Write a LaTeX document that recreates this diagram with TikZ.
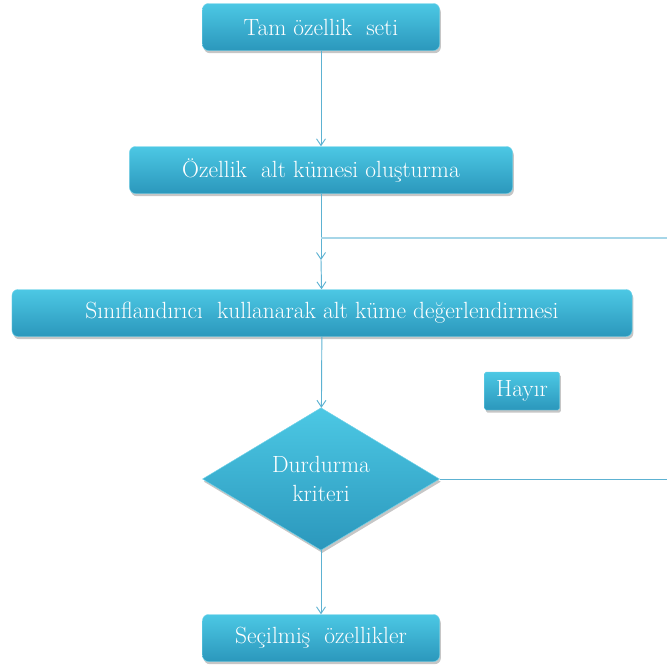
\documentclass[tikz,border=0pt]{standalone}
\usetikzlibrary{shapes.geometric,arrows.meta,shadows}
\definecolor{boxtop}{HTML}{4CC8E4}
\definecolor{boxbot}{HTML}{2B97BC}
\definecolor{flowline}{HTML}{5DB2D2}
\definecolor{loopline}{HTML}{A6D6E8}
\begin{document}
\begin{tikzpicture}[
      x=0.03cm, y=-0.03cm,
      box/.style={rounded corners=0.18cm, top color=boxtop, bottom color=boxbot,
                  draw=boxtop!80!white, line width=0.4pt,
                  drop shadow={shadow xshift=0.04cm,shadow yshift=-0.08cm,opacity=0.45},
                  minimum height=1.41cm, align=center, text=white,
                  font=\rmfamily\fontsize{20}{24}\selectfont},
      dec/.style={diamond, top color=boxtop, bottom color=boxbot,
                  draw=boxtop!80!white, line width=0.4pt,
                  drop shadow={shadow xshift=0.04cm,shadow yshift=-0.08cm,opacity=0.45},
                  minimum width=7.11cm, minimum height=4.26cm, inner sep=0pt,
                  align=center, text=white,
                  font=\rmfamily\fontsize{20}{24}\selectfont},
      arr/.style={-{Straight Barb[length=0.2cm,width=0.27cm]}, flowline, line width=0.8pt},
      plain/.style={flowline, line width=0.8pt}
    ]
    \useasboundingbox (0,0) rectangle (667,670);
    % Steps
    \node[box, minimum width=7.11cm] (full) at (321,27) {Tam özellik\ \ seti};
    \node[box, minimum width=11.49cm] (subset) at (321,170) {Özellik\ \ alt kümesi oluşturma};
    \node[box, minimum width=18.6cm] (eval) at (322,313) {Sınıflandırıcı\ \ kullanarak alt küme değerlendirmesi};
    % Stop test
    \node[dec] (stop) at (321,479) {Durdurma\\kriteri};
    \node[box, rounded corners=0.05cm, minimum width=2.25cm, minimum height=1.14cm] (no) at (522,391) {Hayır};
    \node[box, minimum width=7.11cm] (chosen) at (321,638) {Seçilmiş\ \ özellikler};
    % Loop points
    \coordinate (mid) at (321,260);
    \coordinate (join) at (321,238);
    \coordinate (loopin) at (667,238);
    \coordinate (loopout) at (667,479);
    % Arrows
    \draw[arr] (full) -- (subset);
    \draw[arr] (subset) -- (mid);
    \draw[arr] (mid) -- (eval);
    \draw[loopline, line width=1.6pt] (join) -- (loopin);
    \draw[arr] (eval) -- (stop);
    \draw[plain] (stop) -- (loopout);
    \draw[arr] (stop) -- (chosen);
\end{tikzpicture}
\end{document}
